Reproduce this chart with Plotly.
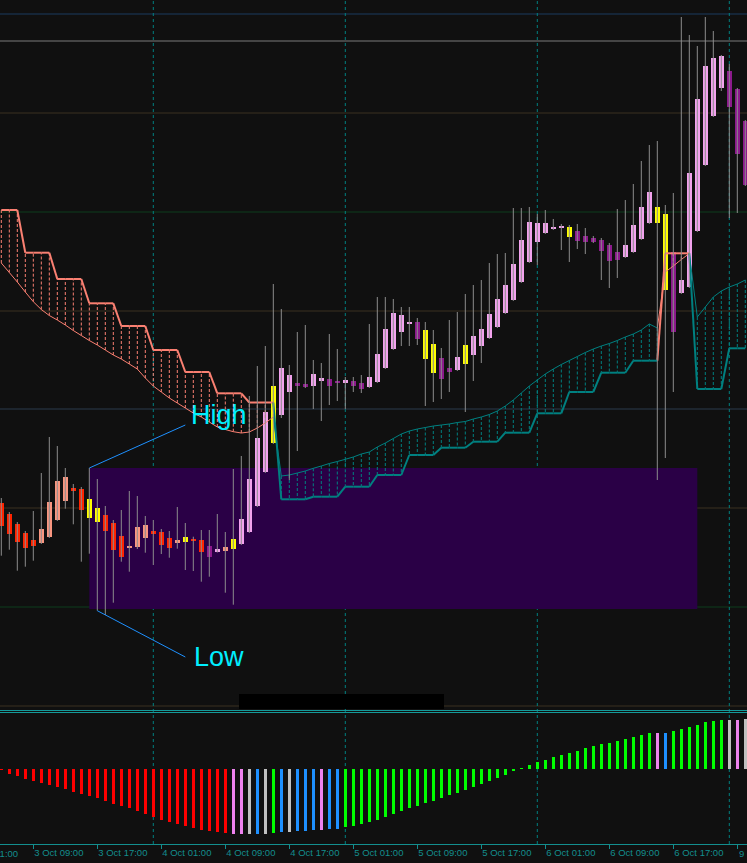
import plotly.graph_objects as go

# ---------------- data (hourly bars, price in points above base) ----------------
PRICE_BASE = 1.16000
PRICE_STEP = 0.00002


def P(v):
    return PRICE_BASE + v * PRICE_STEP


bars = list(range(94))
tick_bars = [4, 12, 20, 28, 36, 44, 52, 60, 68, 76, 84, 92]
tick_labels = ["3 Oct 09:00", "3 Oct 17:00", "4 Oct 01:00", "4 Oct 09:00", "4 Oct 17:00",
               "5 Oct 01:00", "5 Oct 09:00", "5 Oct 17:00", "6 Oct 01:00", "6 Oct 09:00",
               "6 Oct 17:00", "9 Oct 01:00"]
first_label = "3 Oct 01:00"   # bar -4, just left of the visible window
day_start_bars = [19, 43, 67, 91]

open_ = [497, 486, 476, 467, 460, 457.3, 463.3, 480.3, 499.3, 512, 511, 501, 492, 485, 477, 464,
         452.5, 453, 462, 469, 468, 462, 457.3, 458, 461, 460, 454, 448, 449.3, 451, 456, 468.3,
         494, 528, 557.3, 585, 608, 617, 616, 614, 619, 621, 618, 617, 619, 617, 613, 618, 632,
         651, 668, 676, 678, 670, 656, 642, 632, 630, 636, 645, 654, 662, 673, 687, 700, 718, 738,
         758, 767, 771, 772, 773, 769, 764, 762, 760, 755, 748, 743, 748, 761, 777, 793, 786, 748,
         707, 713, 769, 835, 884, 912, 929, 911, 879]
high = [502, 488, 478, 469, 489, 527, 563, 554, 532, 516, 513, 532, 521, 494, 480, 490, 509, 504,
        484, 480, 471, 469, 493, 477, 463.3, 470, 470, 486, 468, 531, 544, 604, 634, 654, 716, 691,
        635, 668, 675, 640, 637, 666, 651, 623, 623, 625, 676, 703, 703, 701, 693, 693, 682, 678,
        670, 652, 680, 688, 706, 715, 720, 737, 746, 747, 792, 792, 793, 786, 790, 781, 776, 775,
        776, 772, 764, 762, 757, 791, 800, 816, 839, 855, 859, 795, 807, 983, 965, 954, 983, 969,
        945, 936, 912, 880]
low = [444.3, 450.3, 429.3, 433.3, 439.3, 456, 462, 479, 491.3, 475.7, 438.3, 446.3, 389.3, 385,
       397.3, 438.3, 428.3, 451, 447.3, 435, 446, 442.3, 451.3, 430, 429, 418.3, 423.3, 447.5,
       407.3, 395.3, 455, 467, 493, 527, 556, 582, 520, 549, 612, 591, 579, 595, 599, 591, 608,
       607, 612, 617, 631, 650, 654, 654, 655, 594, 598, 601, 608, 629, 588, 619, 637, 661, 672,
       686, 699, 717, 737, 735, 766, 770, 750, 738, 751, 746, 757, 720, 712, 722, 742, 747, 760,
       776, 520, 542, 608, 706, 712, 768, 834, 883, 909, 782, 787, 814]
close = [474.3, 466.3, 458.3, 452.3, 454, 471, 498, 519, 523, 509.3, 490.3, 482.3, 478.3, 469.3,
         450, 443, 454, 473, 475, 466, 455, 452.3, 460, 463, 459, 448, 443.3, 451, 453, 461, 481,
         521, 562, 588, 614, 632, 625, 614, 613, 626, 622, 614, 617, 620, 614, 611, 623, 646, 671,
         687, 685, 678, 661, 641, 627, 621, 628, 643, 655, 664, 671, 686, 701, 715, 736, 760, 778,
         777, 777, 773, 774, 763, 759, 758, 758, 749, 739, 740, 755, 775, 793, 808, 777, 710, 668,
         720, 827, 901, 934, 942, 944, 893, 846, 815]
# candle state: R bear-down, S bull-down, P bull-up, U bear-up, Y signal
candle_state = ("RRRRR" "SSSS" "RR" "YY" "RRR" "SSS" "RRR" "S" "Y" "RR" "U" "P" "S" "Y" "PPPP" "Y"
                "PP" "UU" "PP" "UU" "P" "UU" "PPPPPP" "U" "YY" "UU" "P" "Y" "PPPPPPPPPPPP" "Y"
                "UUUUUU" "PPPP" "YY" "U" "PPPPPP" "UUU")

# Ichimoku-style cloud (shifted spans)
span_a = [737, 727.5, 718, 708, 698.3, 690.5, 684.5, 680, 675, 669.5, 664.5, 659.5, 655, 650, 645,
          641, 636, 631, 622, 614, 608, 602, 597, 592, 587, 583, 578, 573, 570.5, 568.3, 567, 568,
          572, 577, 583, 524, 525, 527, 529, 531.7, 534, 536.5, 538.5, 540.7, 543, 546, 548, 553,
          557, 561.5, 566, 569, 571, 572.5, 574, 575, 576, 577.5, 578.5, 581, 583, 585.5, 589, 594,
          600, 607, 614, 620, 626, 631, 635.5, 639.5, 643.5, 647.5, 651, 654, 656.5, 659.5, 663,
          666, 670, 676, 672, 728, 734, 740.5, 746.5, 683, 693, 703, 709, 713, 716, 720]
span_b = [790, 790, 790, 747.3, 747.3, 747.3, 747.3, 721, 721, 721, 721, 696.7, 696.7, 696.7,
          696.7, 674, 674, 674, 674, 650, 650, 650, 650, 628, 628, 628, 628, 606.7, 606.7, 606.7,
          606.7, 597.5, 597.5, 597.5, 597.5, 500.7, 500.7, 500.7, 500.7, 503.3, 503.3, 503.3, 503.3,
          513.3, 513.3, 513.3, 513.3, 525, 525, 525, 525, 545, 545, 545, 545, 552.3, 552.3, 552.3,
          552.3, 558.3, 558.3, 558.3, 558.3, 567.3, 567.3, 567.3, 567.3, 586.7, 586.7, 586.7, 586.7,
          608, 608, 608, 608, 627.3, 627.3, 627.3, 627.3, 639.3, 639.3, 639.3, 639.3, 746.7, 746.7,
          746.7, 746.7, 611, 611, 611, 611, 651.7, 651.7, 651.7]

# zone rectangle and labels
zone_start_bar, zone_end_bar = 11, 87
zone_high, zone_low = 532, 391
high_label_bar, high_label_price, high_text_price = 23, 575, 585.5
low_label_bar, low_label_price = 23, 343

# horizontal levels
levels = [986, 959, 887, 788, 689, 591, 492, 393, 294]
level_kind = ["blue", "grey", "brown", "green", "brown", "slate", "brown", "green", "brown"]

# oscillator histogram
osc = [-0.7, -4.7, -6.7, -10, -12, -14, -16, -18, -20, -23, -25, -27, -29, -32, -35, -37, -39, -42,
       -45, -48, -51, -53, -55, -57, -59, -61, -62, -63, -64, -65, -65, -65, -65, -65, -64, -63,
       -63, -62, -62, -61, -61, -60, -60, -58, -57, -55, -53, -51, -48, -45, -42, -39, -37, -34,
       -32, -29, -26, -24, -21, -18, -15, -12, -9, -6, -2, 0.7, 4, 7, 9, 12, 14, 16, 18, 21, 23,
       25, 26, 28, 30, 32, 34, 36, 36, 36, 38, 40, 42, 44, 47, 48, 49, 49, 49, 50]
osc_state = ("RRRRRRRRRRRRRRRRRRRRRRRRRRRRR" "VVSBSGBSBBBVBB"
             "GGGGGGGGGGGGGGGGGGGGGGGGGGGGGGGGGGGGGGG" "VB" "GGGGGGG" "SVS")

# ---------------- styles ----------------
BG = "#101010"
CANDLE_COLORS = {"R": "#ff2400", "S": "#f99680", "P": "#f3a3ee", "U": "#8c1a8c", "Y": "#ffff00"}
OSC_COLORS = {"R": "#ff0000", "G": "#00ff00", "B": "#1e90ff", "V": "#ee82ee", "S": "#c0c0c0"}
LEVEL_COLORS = {"blue": "#1b3a5e", "grey": "#7a7a7a", "brown": "#3a3121", "green": "#0c3d1c",
                "slate": "#2a3a4c"}
SALMON = "#fa8072"
TEAL = "#008080"
WICK = "#8c8c8c"
AXIS_TEAL = "#138e8e"
TICK_FONT = dict(family="Liberation Sans", size=9.5, color=AXIS_TEAL)

H = 863.0
main_dom = [(H - 709) / H, 1.0]
sub_dom = [(H - 844) / H, (H - 713) / H]
label_y = (H - 853) / H

fig = go.Figure()


def state(i):
    return "bear" if span_b[i] > span_a[i] else "bull"


# cloud hatching
for st, col in (("bear", SALMON), ("bull", TEAL)):
    hx, hy = [], []
    for i in bars:
        if state(i) == st:
            hx += [i, i, None]
            hy += [P(span_a[i]), P(span_b[i]), None]
    fig.add_trace(go.Scatter(x=hx, y=hy, mode="lines", yaxis="y",
                             line=dict(color=col, width=1, dash="3px,2px")))

# cloud boundary lines
for series, w in ((span_a, 1), (span_b, 2)):
    for st, col in (("bear", SALMON), ("bull", TEAL)):
        sx, sy = [], []
        for i in bars[:-1]:
            if state(i + 1) == st:
                sx += [i, i + 1, None]
                sy += [P(series[i]), P(series[i + 1]), None]
        fig.add_trace(go.Scatter(x=sx, y=sy, mode="lines", yaxis="y",
                                 line=dict(color=col, width=w)))

# wicks
wx, wy = [], []
for i in bars:
    wx += [i, i, None]
    wy += [P(low[i]), P(high[i]), None]
fig.add_trace(go.Scatter(x=wx, y=wy, mode="lines", yaxis="y", line=dict(color=WICK, width=1)))

# bodies
body_base = [P(min(o, c)) for o, c in zip(open_, close)]
body_len = [max(abs(c - o), 1.5) * PRICE_STEP for o, c in zip(open_, close)]
fig.add_trace(go.Bar(x=bars, y=body_len, base=body_base, width=0.62, yaxis="y",
                     marker=dict(color=[CANDLE_COLORS[s] for s in candle_state], line=dict(width=0))))

# zone label lines
fig.add_trace(go.Scatter(x=[zone_start_bar, high_label_bar, None, zone_start_bar + 1, low_label_bar],
                         y=[P(high[zone_start_bar]), P(high_label_price), None,
                            P(low[zone_start_bar + 1]), P(low_label_price)],
                         mode="lines", yaxis="y", line=dict(color="#1e90ff", width=1)))

# oscillator
fig.add_trace(go.Bar(x=bars, y=osc, width=0.4, yaxis="y2",
                     marker=dict(color=[OSC_COLORS[s] for s in osc_state], line=dict(width=0))))

shapes = []
shapes.append(dict(type="rect", xref="x", yref="y", x0=zone_start_bar, x1=zone_end_bar,
                   y0=P(zone_low), y1=P(zone_high), fillcolor="#2a0046", line=dict(width=0),
                   layer="below"))
for lv, k in zip(levels, level_kind):
    shapes.append(dict(type="line", xref="paper", yref="y", x0=0, x1=1, y0=P(lv), y1=P(lv),
                       line=dict(color=LEVEL_COLORS[k], width=1), layer="below"))
for b in day_start_bars:
    shapes.append(dict(type="line", xref="x", yref="paper", x0=b, x1=b, y0=sub_dom[0], y1=1,
                       line=dict(color=TEAL, width=1, dash="3px,3px"), layer="below"))
# window separator and label box
shapes.append(dict(type="rect", xref="paper", yref="paper", x0=239 / 747, x1=444 / 747,
                   y0=(H - 709) / H, y1=(H - 694) / H, fillcolor="#000000", line=dict(width=0)))
for yy in (710.5, 712.5):
    shapes.append(dict(type="line", xref="paper", yref="paper", x0=0, x1=1, y0=(H - yy) / H,
                       y1=(H - yy) / H, line=dict(color="#159a9a", width=1)))

# tick labels drawn left-aligned at their tick (MetaTrader style)
shown_ticktext = tick_labels[:-1] + [""]
annotations = [
    dict(x=high_label_bar, y=P(high_text_price), xref="x", yref="y", text="High",
         showarrow=False, xanchor="left", yanchor="middle", xshift=4,
         font=dict(family="Liberation Sans", size=27, color="#00eeff")),
    dict(x=low_label_bar, y=P(low_label_price), xref="x", yref="y", text="Low",
         showarrow=False, xanchor="left", yanchor="middle", xshift=7,
         font=dict(family="Liberation Sans", size=27, color="#00eeff")),
    dict(x=-31 / 747, y=label_y, xref="paper", yref="paper", text=first_label,
         showarrow=False, xanchor="left", yanchor="middle", xshift=-2, font=TICK_FONT),
    dict(x=tick_bars[-1], y=label_y, xref="x", yref="paper", text=tick_labels[-1],
         showarrow=False, xanchor="left", yanchor="middle", xshift=0, font=TICK_FONT),
]

fig.update_layout(
    width=747, height=863, margin=dict(l=0, r=0, t=0, b=0),
    paper_bgcolor=BG, plot_bgcolor=BG, showlegend=False, hovermode=False,
    barmode="overlay", bargap=0,
    shapes=shapes, annotations=annotations,
    xaxis=dict(range=[-0.1625, 93.2125], anchor="y2", showgrid=False, zeroline=False,
               showline=True, linecolor=AXIS_TEAL, linewidth=1,
               tickmode="array", tickvals=tick_bars, ticktext=shown_ticktext,
               ticks="outside", ticklen=4, tickcolor=AXIS_TEAL, ticklabelposition="outside right",
               tickfont=TICK_FONT),
    yaxis=dict(domain=main_dom, range=[P(291), P(1000)], visible=False),
    yaxis2=dict(domain=sub_dom, range=[-75, 56], visible=False),
)

fig.write_html("out.html", config={"displayModeBar": False},
               post_script="document.body.style.margin='0px';document.body.style.overflow='hidden';")
